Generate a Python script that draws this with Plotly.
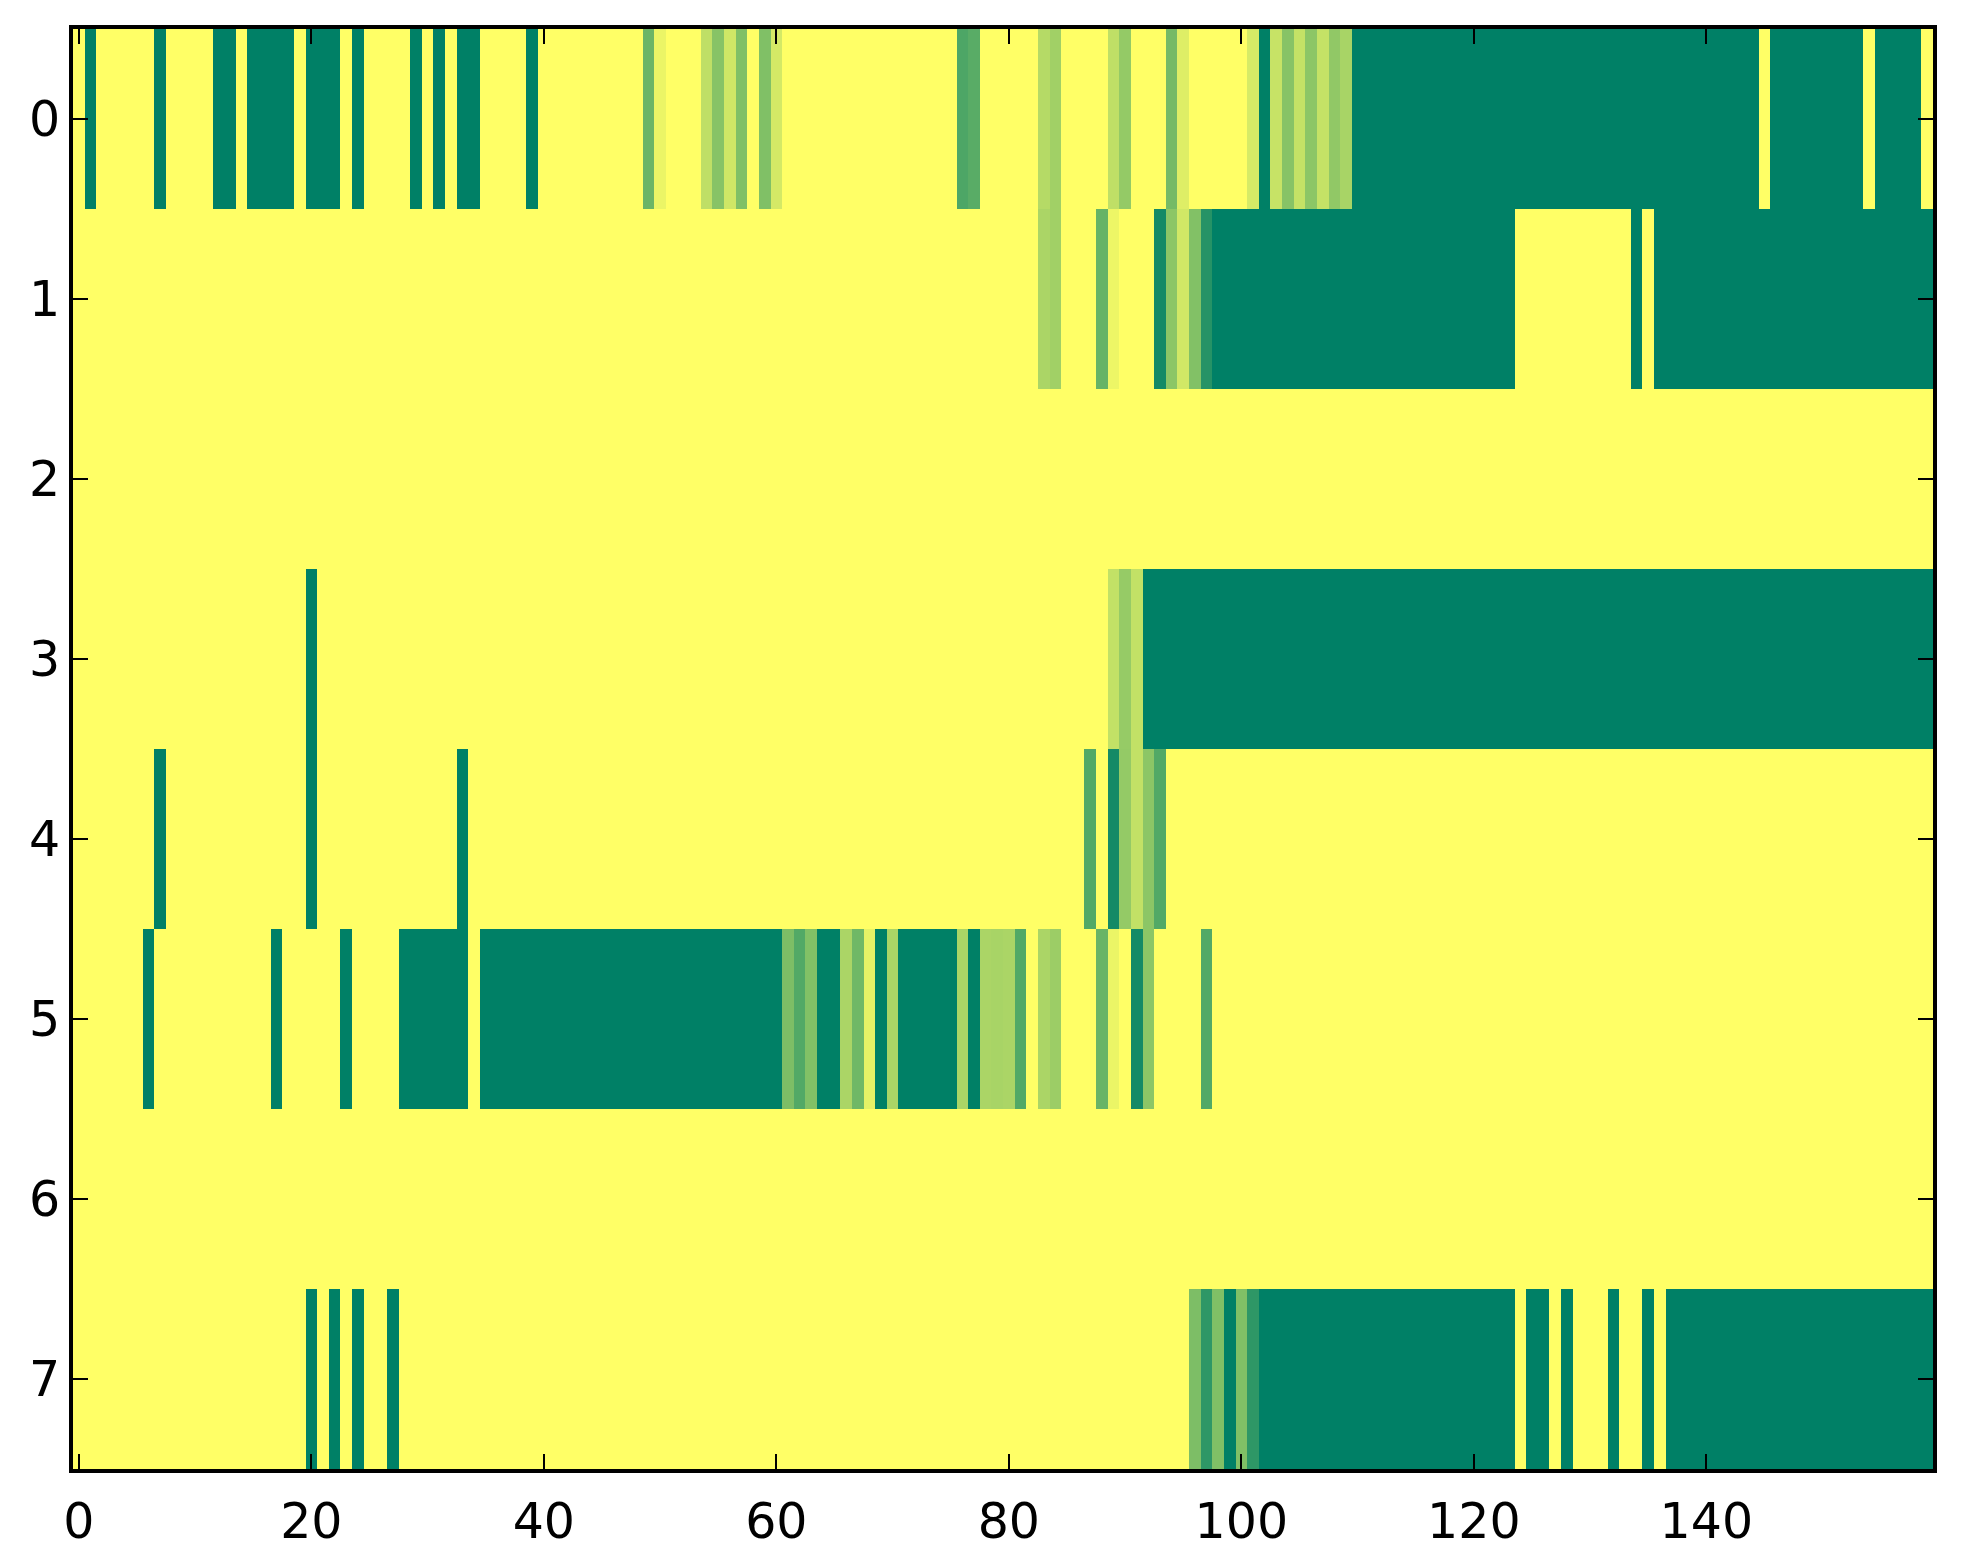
import plotly.graph_objects as go

# each row is stored as runs of [value, number of columns], read left to right
row0 = [[1, 1], [0, 1], [1, 5], [0, 1], [1, 4], [0, 2], [1, 1], [0, 4], [1, 1], [0, 3],
        [1, 1], [0, 1], [1, 4], [0, 1], [1, 1], [0, 1], [1, 1], [0, 2], [1, 4], [0, 1],
        [1, 9], [0.42, 1], [0.92, 1], [1, 3], [0.75, 1], [0.53, 1], [0.81, 1], [0.5, 1],
        [1, 1], [0.5, 1], [0.83, 1], [1, 15], [0.3, 1], [0.35, 1], [1, 5], [0.71, 1],
        [0.63, 1], [1, 4], [0.75, 1], [0.58, 1], [1, 3], [0.46, 1], [0.87, 1], [1, 5],
        [0.84, 1], [0, 1], [0.78, 1], [0.53, 1], [0.77, 1], [0.55, 1], [0.77, 1],
        [0.57, 1], [0.66, 1], [0, 35], [1, 1], [0, 8], [1, 1], [0, 4], [1, 1]]
row1 = [[1, 83], [0.67, 1], [0.63, 1], [1, 3], [0.4, 1], [0.93, 1], [1, 3], [0.08, 1],
        [0.55, 1], [0.82, 1], [0.51, 1], [0.15, 1], [0, 26], [1, 10], [0, 1], [1, 1], [0, 24]]
row2 = [[1, 160]]
row3 = [[1, 20], [0, 1], [1, 68], [0.76, 1], [0.59, 1], [0.76, 1], [0, 68]]
row4 = [[1, 7], [0, 1], [1, 12], [0, 1], [1, 12], [0, 1], [1, 53], [0.32, 1], [1, 1],
        [0.08, 1], [0.58, 1], [0.76, 1], [0.55, 1], [0.32, 1], [1, 66]]
row5 = [[1, 6], [0, 1], [1, 10], [0, 1], [1, 5], [0, 1], [1, 4], [0, 6], [1, 1], [0, 26],
        [0.49, 1], [0.32, 1], [0.51, 1], [0, 2], [0.67, 1], [0.44, 1], [0.9, 1], [0, 1],
        [0.67, 1], [0, 5], [0.67, 1], [0, 1], [0.67, 1], [0.66, 1], [0.67, 1], [0.32, 1],
        [1, 1], [0.67, 1], [0.61, 1], [1, 3], [0.41, 1], [0.92, 1], [1, 1], [0.08, 1],
        [0.55, 1], [1, 4], [0.32, 1], [1, 62]]
row6 = [[1, 160]]
row7 = [[1, 20], [0, 1], [1, 1], [0, 1], [1, 1], [0, 1], [1, 2], [0, 1], [1, 68],
        [0.49, 1], [0.18, 1], [0.5, 1], [0, 1], [0.5, 1], [0.18, 1], [0, 22], [1, 1],
        [0, 2], [1, 1], [0, 1], [1, 3], [0, 1], [1, 2], [0, 1], [1, 1], [0, 23]]

x_ticks = [0, 20, 40, 60, 80, 100, 120, 140]
y_ticks = [0, 1, 2, 3, 4, 5, 6, 7]


def expand(runs):
    out = []
    for val, n in runs:
        out += [val] * n
    return out


z = [expand(r) for r in [row0, row1, row2, row3, row4, row5, row6, row7]]

# matplotlib "summer" colormap
summer = [[0, 'rgb(0,128,102)'], [1, 'rgb(255,255,102)']]

fig = go.Figure(go.Heatmap(z=z, colorscale=summer, zmin=0, zmax=1, showscale=False))

axis_style = dict(
    showline=True, linecolor='black', linewidth=4, mirror='ticks',
    ticks='inside', ticklen=15, tickwidth=2, tickcolor='black',
    showgrid=False, zeroline=False, automargin=False,
    tickfont=dict(family='DejaVu Sans', size=49, color='black'),
)

# margins allow for the 8px body margin of the html page
fig.update_layout(
    width=1963, height=1564,
    margin=dict(l=65, r=38, t=21, b=103),
    paper_bgcolor='white', plot_bgcolor='white',
    xaxis=dict(range=[-0.5, 159.5], tickvals=x_ticks, ticklabelstandoff=6, **axis_style),
    yaxis=dict(range=[7.5, -0.5], tickvals=y_ticks, ticklabelstandoff=-1, **axis_style),
)

fig.write_html("out.html")
